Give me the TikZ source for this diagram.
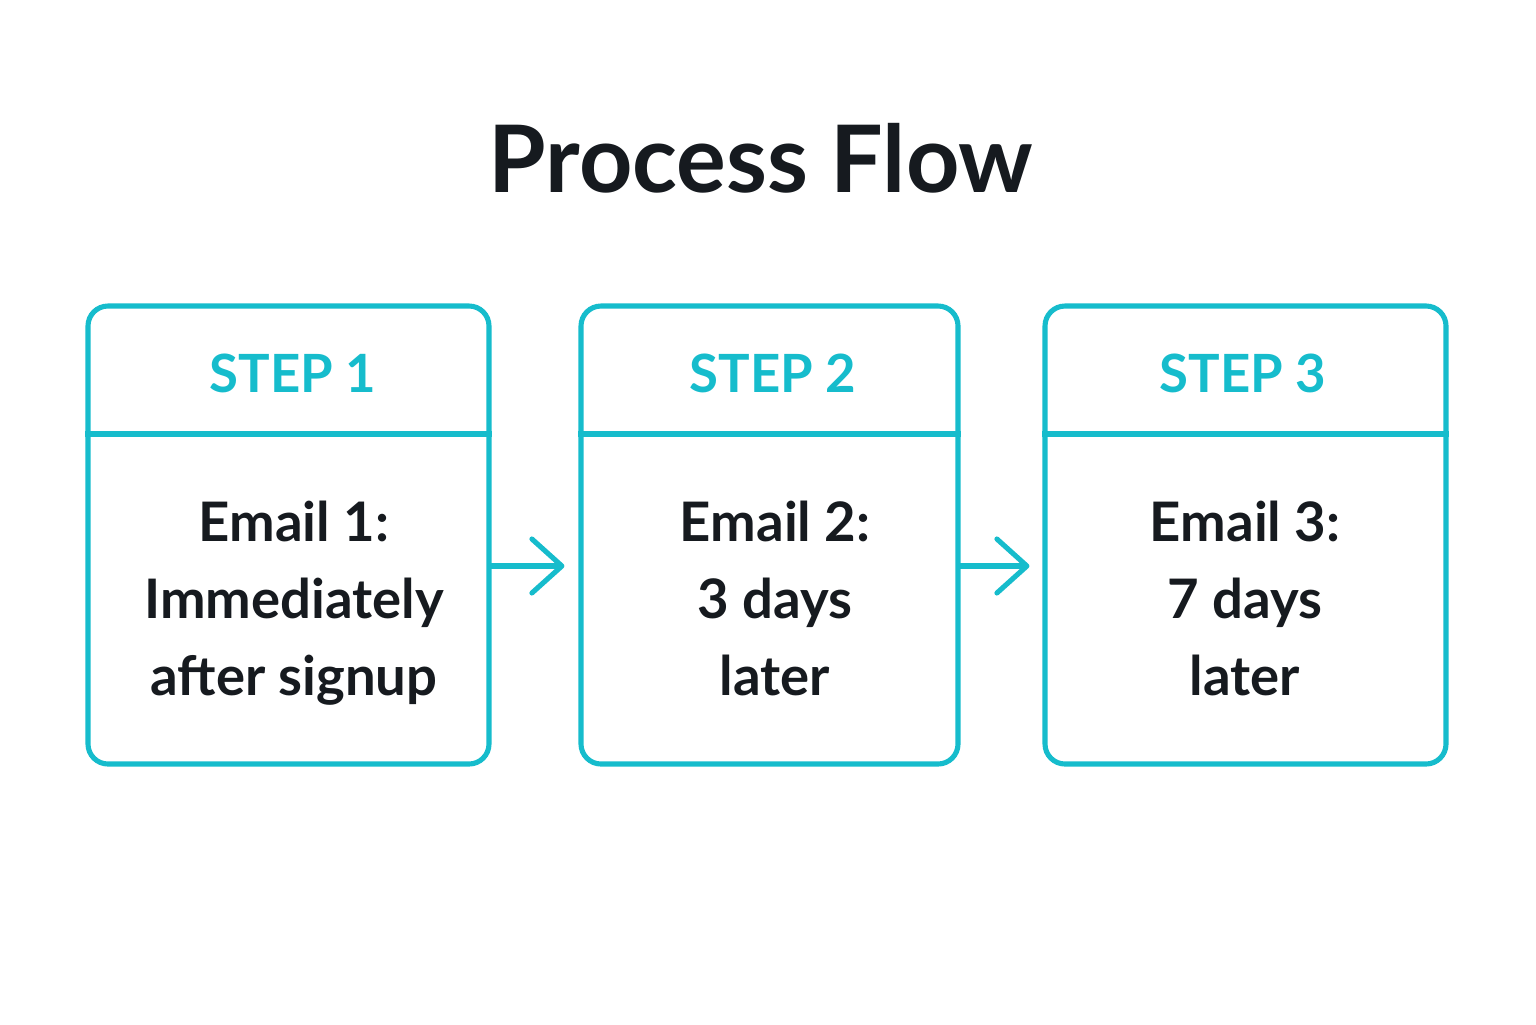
\documentclass[tikz,border=0pt]{standalone}
\usepackage{fontspec}
\setmainfont{Lato}
\usetikzlibrary{arrows.meta}
\definecolor{teal}{RGB}{22,188,204}
\definecolor{ink}{RGB}{22,26,31}
\tikzset{
  stepbox/.style={draw=teal, line width=1.45pt, rounded corners=0.2cm, minimum height=4.58cm, inner sep=0pt},
  steplabel/.style={text=teal, font=\fontsize{15}{18}\selectfont\bfseries},
  steptext/.style={text=ink, align=center, font=\fontsize{15.5}{21.9}\selectfont\bfseries},
  flow/.style={draw=teal, line width=1.45pt, line cap=round, -{Straight Barb[length=3mm,width=5.4mm,round]}}
}
\begin{document}
\begin{tikzpicture}
\useasboundingbox (0,0) rectangle (15.36,-10.24);

\node (title) at (7.61,-1.58) [text=ink, font=\fontsize{26.5}{32}\selectfont\bfseries] {Process Flow};

% the three boxes
\node (box1) at (2.885,-5.35) [stepbox, minimum width=4.01cm] {};
\node (box2) at (7.695,-5.35) [stepbox, minimum width=3.77cm] {};
\node (box3) at (12.455,-5.35) [stepbox, minimum width=4.01cm] {};

\draw[teal, line width=1.45pt] (box1.west |- 0,-4.34) -- (box1.east |- 0,-4.34);
\draw[teal, line width=1.45pt] (box2.west |- 0,-4.34) -- (box2.east |- 0,-4.34);
\draw[teal, line width=1.45pt] (box3.west |- 0,-4.34) -- (box3.east |- 0,-4.34);

\node (head1) at (2.93,-3.73) [steplabel] {STEP 1};
\node (head2) at (7.73,-3.73) [steplabel] {STEP 2};
\node (head3) at (12.43,-3.73) [steplabel] {STEP 3};

\node (text1) at (2.94,-6.10) [steptext] {Email 1:\\Immediately\\after signup\strut};
\node (text2) at (7.75,-6.10) [steptext] {Email 2:\\3 days\\later\strut};
\node (text3) at (12.45,-6.10) [steptext] {Email 3:\\7 days\\later\strut};

% arrows
\draw[flow] ([yshift=-3.1mm]box1.east) -- ([yshift=-3.1mm,xshift=-1.4mm]box2.west);
\draw[flow] ([yshift=-3.1mm]box2.east) -- ([yshift=-3.1mm,xshift=-1.3mm]box3.west);

\end{tikzpicture}
\end{document}
